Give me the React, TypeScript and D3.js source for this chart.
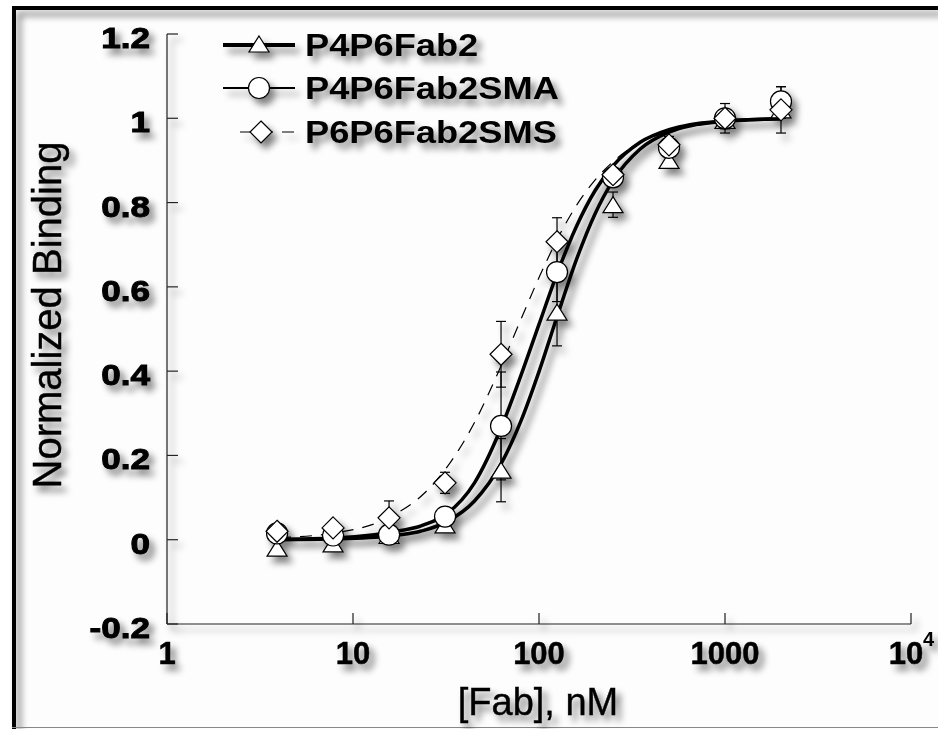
import React from "react";
import * as d3 from "d3";

// ---- data ----
const concentrations = [3.90625, 7.8125, 15.625, 31.25, 62.5, 125, 250, 500, 1000, 2000];

const triangleValues = [-0.02, -0.01, 0.01, 0.035, 0.165, 0.54, 0.795, 0.9, 0.995, 1.02];
const triangleErrors = [0, 0, 0, 0.016, 0.075, 0.08, 0.03, 0.015, 0.02, 0.02];

const circleValues = [0.015, 0.01, 0.012, 0.055, 0.27, 0.635, 0.86, 0.93, 1.0, 1.04];
const circleErrors = [0, 0, 0, 0.02, 0.128, 0.07, 0.02, 0.02, 0.02, 0.035];

const diamondValues = [0.02, 0.028, 0.052, 0.135, 0.44, 0.707, 0.866, 0.937, 1.0, 1.02];
const diamondErrors = [0, 0, 0.04, 0.025, 0.078, 0.057, 0.01, 0.02, 0.035, 0.055];

// fitted curves
const curveX = [4, 8, 16, 24, 32, 45, 62.5, 80, 100, 125, 160, 200, 250, 350, 500, 700, 1000, 2000];
const fitTriangle = [0.0, 0.002, 0.009, 0.022, 0.043, 0.092, 0.18, 0.282, 0.399, 0.529, 0.668, 0.773, 0.852, 0.927, 0.967, 0.985, 0.993, 0.999];
const fitCircle = [0.001, 0.004, 0.018, 0.035, 0.062, 0.135, 0.265, 0.39, 0.511, 0.631, 0.746, 0.828, 0.887, 0.943, 0.973, 0.987, 0.994, 0.999];
const fitDiamond = [0.005, 0.016, 0.055, 0.109, 0.172, 0.278, 0.412, 0.523, 0.622, 0.712, 0.795, 0.853, 0.897, 0.942, 0.969, 0.983, 0.991, 0.997];

const yTicks = [-0.2, 0, 0.2, 0.4, 0.6, 0.8, 1, 1.2];
const yTickLabels = ["-0.2", "0", "0.2", "0.4", "0.6", "0.8", "1", "1.2"];
const xTicks = [1, 10, 100, 1000, 10000];
const xTickLabels = ["1", "10", "100", "1000", "10"];

const seriesNames = ["P4P6Fab2", "P4P6Fab2SMA", "P6P6Fab2SMS"];

const FONT = "'Liberation Sans', Arial, Helvetica, sans-serif";

export default function App() {
  const W = 938, H = 729;
  const x = d3.scaleLog().domain([1, 10000]).range([167, 911]);
  const y = d3.scaleLinear().domain([-0.2, 1.2]).range([624, 34]);

  const line = d3
    .line<[number, number]>()
    .x((d) => x(d[0]))
    .y((d) => y(d[1]))
    .curve(d3.curveMonotoneX);

  const triW = 20, triH = 16, circR = 10.5, diaR = 11;

  const triPath = (cx: number, cy: number) =>
    `M${cx},${cy - triH / 2}L${cx + triW / 2},${cy + triH / 2}L${cx - triW / 2},${cy + triH / 2}Z`;
  const diaPath = (cx: number, cy: number) =>
    `M${cx},${cy - diaR}L${cx + diaR},${cy}L${cx},${cy + diaR}L${cx - diaR},${cy}Z`;

  const errBars = (vals: number[], errs: number[], key: string) =>
    concentrations.map((c, i) =>
      errs[i] > 0 ? (
        <g key={key + i} stroke="#000" strokeWidth={1.2}>
          <line x1={x(c)} x2={x(c)} y1={y(vals[i] + errs[i])} y2={y(vals[i] - errs[i])} />
          <line x1={x(c) - 5} x2={x(c) + 5} y1={y(vals[i] + errs[i])} y2={y(vals[i] + errs[i])} />
          <line x1={x(c) - 5} x2={x(c) + 5} y1={y(vals[i] - errs[i])} y2={y(vals[i] - errs[i])} />
        </g>
      ) : null
    );

  const legendRows = [45, 88, 132];
  const legX1 = 223, legX2 = 295, legMx = 259, legTx = 305;

  return (
    <svg
      width={W}
      height={H}
      viewBox={`0 0 ${W} ${H}`}
      style={{ position: "absolute", left: 0, top: 0, background: "#fff" }}
    >
      <defs>
        <filter id="shadow" filterUnits="userSpaceOnUse" x={0} y={0} width={W} height={H}>
          <feGaussianBlur in="SourceAlpha" stdDeviation={3.5} />
          <feOffset dx={5} dy={6} result="off" />
          <feComponentTransfer>
            <feFuncA type="linear" slope={0.5} />
          </feComponentTransfer>
          <feMerge>
            <feMergeNode />
            <feMergeNode in="SourceGraphic" />
          </feMerge>
        </filter>
      </defs>

      {/* frame */}
      <rect x={12} y={8} width={W - 12} height={H - 8} fill="#fdfdfd" />
      <g filter="url(#shadow)">
        <path d={`M14,${H}V8H${W}`} fill="none" stroke="#000" strokeWidth={4} />
      </g>
      <line x1={12} x2={W} y1={727.5} y2={727.5} stroke="#888" strokeWidth={1} />

      <g filter="url(#shadow)">
        {/* axes */}
        <g stroke="#222" strokeWidth={1.2} fill="none">
          <line x1={x(1)} x2={x(1)} y1={y(1.2)} y2={y(-0.2)} />
          <line x1={x(1)} x2={x(10000)} y1={y(-0.2)} y2={y(-0.2)} />
          {yTicks.map((t) => (
            <line key={"yt" + t} x1={x(1)} x2={x(1) + 11} y1={y(t)} y2={y(t)} />
          ))}
          {xTicks.map((t) => (
            <line key={"xt" + t} x1={x(t)} x2={x(t)} y1={y(-0.2)} y2={y(-0.2) - 11} />
          ))}
        </g>

        {/* y tick labels */}
        {yTicks.map((t, i) => (
          <text
            key={"yl" + t}
            transform={`translate(150,${y(t) + 14}) scale(1.17,1)`}
            textAnchor="end"
            fontFamily={FONT}
            fontWeight="bold"
            fontSize={30}
            stroke="#000"
            strokeWidth={1}
            fill="#000"
          >
            {yTickLabels[i]}
          </text>
        ))}

        {/* x tick labels */}
        {xTicks.map((t, i) => (
          <text
            key={"xl" + t}
            x={x(t) - (t === 10000 ? 5 : 0)}
            y={664}
            textAnchor="middle"
            fontFamily={FONT}
            fontWeight="bold"
            fontSize={31}
            stroke="#000"
            strokeWidth={0.5}
            fill="#000"
          >
            {xTickLabels[i]}
          </text>
        ))}
        <text x={x(10000) + 12} y={646} fontFamily={FONT} fontWeight="bold" fontSize={20} fill="#000">
          4
        </text>

        {/* axis titles */}
        <text
          x={538}
          y={715}
          textAnchor="middle"
          fontFamily={FONT}
          fontSize={38}
          stroke="#000"
          strokeWidth={0.4}
          fill="#000"
        >
          [Fab], nM
        </text>
        <text
          transform={`translate(61,315) rotate(-90)`}
          textAnchor="middle"
          fontFamily={FONT}
          fontSize={40}
          stroke="#000"
          strokeWidth={0.4}
          fill="#000"
        >
          Normalized Binding
        </text>

        {/* error bars */}
        {errBars(triangleValues, triangleErrors, "te")}
        {errBars(circleValues, circleErrors, "ce")}
        {errBars(diamondValues, diamondErrors, "de")}

        {/* fitted curves */}
        <path
          d={line(curveX.map((c, i) => [c, fitDiamond[i]] as [number, number])) || ""}
          fill="none"
          stroke="#000"
          strokeWidth={1.2}
          strokeDasharray="12 9"
        />
        <path
          d={line(curveX.map((c, i) => [c, fitTriangle[i]] as [number, number])) || ""}
          fill="none"
          stroke="#000"
          strokeWidth={3.5}
        />
        <path
          d={line(curveX.map((c, i) => [c, fitCircle[i]] as [number, number])) || ""}
          fill="none"
          stroke="#000"
          strokeWidth={3.5}
        />

        {/* markers */}
        {concentrations.map((c, i) => (
          <path key={"tri" + i} d={triPath(x(c), y(triangleValues[i]))} fill="#fff" stroke="#000" strokeWidth={1.2} />
        ))}
        {concentrations.map((c, i) => (
          <circle key={"cir" + i} cx={x(c)} cy={y(circleValues[i])} r={circR} fill="#fff" stroke="#000" strokeWidth={1.2} />
        ))}
        {concentrations.map((c, i) => (
          <path key={"dia" + i} d={diaPath(x(c), y(diamondValues[i]))} fill="#fff" stroke="#000" strokeWidth={1.2} />
        ))}

        {/* legend */}
        <line x1={legX1} x2={legX2} y1={legendRows[0]} y2={legendRows[0]} stroke="#000" strokeWidth={4} />
        <path d={triPath(legMx, legendRows[0] - 1)} fill="#fff" stroke="#000" strokeWidth={1.2} />
        <line x1={legX1} x2={legX2} y1={legendRows[1]} y2={legendRows[1]} stroke="#000" strokeWidth={2.2} />
        <circle cx={legMx} cy={legendRows[1]} r={circR} fill="#fff" stroke="#000" strokeWidth={1.2} />
        <line x1={240} x2={legX2} y1={legendRows[2]} y2={legendRows[2]} stroke="#000" strokeWidth={1.2} strokeDasharray="12 9" />
        <path d={diaPath(legMx + 2, legendRows[2])} fill="#fff" stroke="#000" strokeWidth={1.2} />
        {seriesNames.map((n, i) => (
          <text
            key={n}
            transform={`translate(${legTx},${legendRows[i] + 11}) scale(1.17,1)`}
            fontFamily={FONT}
            fontWeight="bold"
            fontSize={31}
            fill="#000"
          >
            {n}
          </text>
        ))}
      </g>
    </svg>
  );
}
